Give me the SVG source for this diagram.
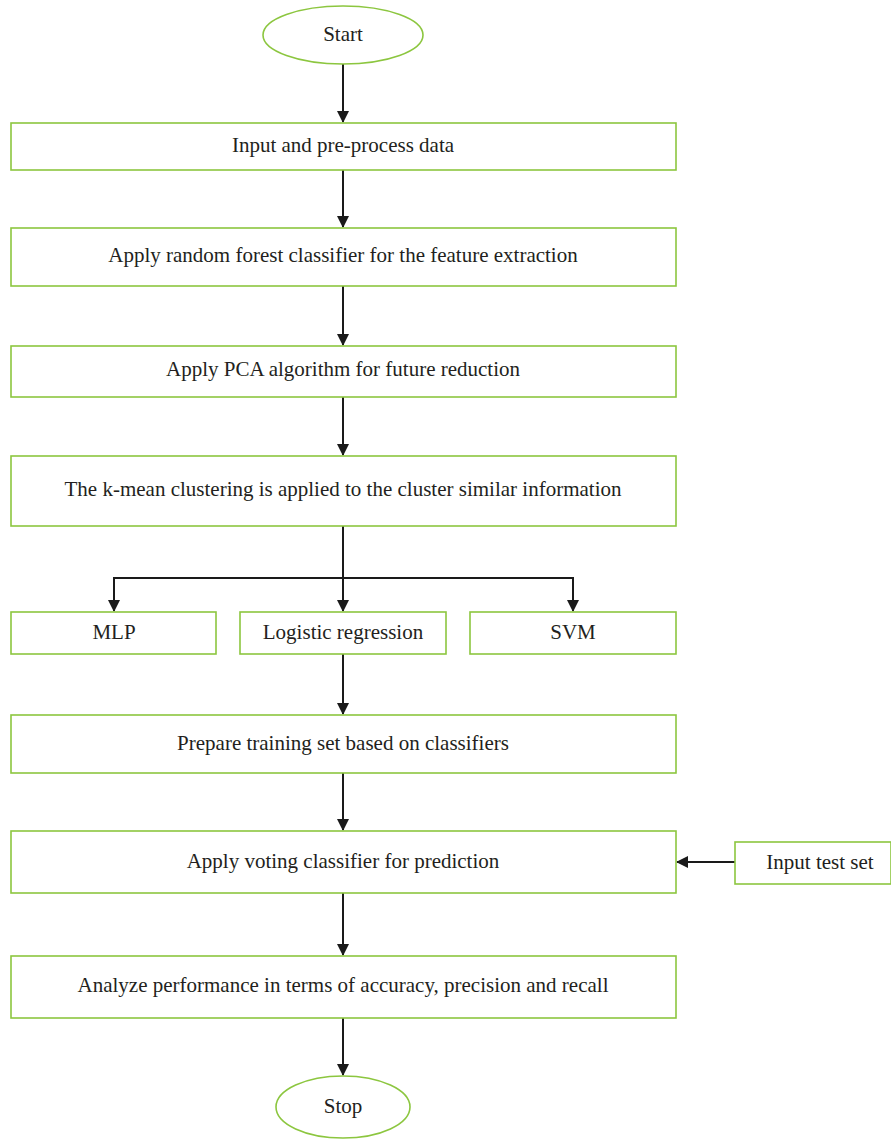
<svg xmlns="http://www.w3.org/2000/svg" width="891" height="1141" viewBox="0 0 891 1141">
<style>
.n{fill:#fff;stroke:#8cc63f;stroke-width:1.6}
.t{font-family:"Liberation Serif",serif;font-size:21px;fill:#231f20;text-anchor:middle;dominant-baseline:central}
.c{stroke:#1a1a1a;stroke-width:2;fill:none}
</style>
<defs>
<marker id="a" markerWidth="12" markerHeight="12" refX="11" refY="6" orient="auto" markerUnits="userSpaceOnUse" viewBox="0 0 12 12">
<path d="M0,0 L12,6 L0,12 z" fill="#1a1a1a"/>
</marker>
</defs>
<g id="connectors">
<line class="c" x1="343" y1="64" x2="343" y2="122" marker-end="url(#a)"/>
<line class="c" x1="343" y1="170" x2="343" y2="227" marker-end="url(#a)"/>
<line class="c" x1="343" y1="286" x2="343" y2="345" marker-end="url(#a)"/>
<line class="c" x1="343" y1="397" x2="343" y2="455" marker-end="url(#a)"/>
<line class="c" x1="343" y1="526" x2="343" y2="611" marker-end="url(#a)"/>
<polyline class="c" points="343,578 114,578 114,611" marker-end="url(#a)"/>
<polyline class="c" points="343,578 573,578 573,611" marker-end="url(#a)"/>
<line class="c" x1="343" y1="654" x2="343" y2="714" marker-end="url(#a)"/>
<line class="c" x1="343" y1="773" x2="343" y2="830" marker-end="url(#a)"/>
<line class="c" x1="735" y1="862" x2="677" y2="862" marker-end="url(#a)"/>
<line class="c" x1="343" y1="893" x2="343" y2="955" marker-end="url(#a)"/>
<line class="c" x1="343" y1="1018" x2="343" y2="1075" marker-end="url(#a)"/>
</g>
<g id="start"><ellipse class="n" cx="343" cy="35" rx="80" ry="29"/><text class="t" x="343" y="34">Start</text></g>
<g id="input"><rect class="n" x="11" y="123" width="665" height="47"/><text class="t" x="343" y="145">Input and pre-process data</text></g>
<g id="rf"><rect class="n" x="11" y="228" width="665" height="58"/><text class="t" x="343" y="255">Apply random forest classifier for the feature extraction</text></g>
<g id="pca"><rect class="n" x="11" y="346" width="665" height="51"/><text class="t" x="343" y="369">Apply PCA algorithm for future reduction</text></g>
<g id="kmean"><rect class="n" x="11" y="456" width="665" height="70"/><text class="t" x="343" y="489">The k-mean clustering is applied to the cluster similar information</text></g>
<g id="mlp"><rect class="n" x="11" y="612" width="205" height="42"/><text class="t" x="114" y="632">MLP</text></g>
<g id="lr"><rect class="n" x="240" y="612" width="206" height="42"/><text class="t" x="343" y="632">Logistic regression</text></g>
<g id="svm"><rect class="n" x="470" y="612" width="206" height="42"/><text class="t" x="573" y="632">SVM</text></g>
<g id="train"><rect class="n" x="11" y="715" width="665" height="58"/><text class="t" x="343" y="743">Prepare training set based on classifiers</text></g>
<g id="vote"><rect class="n" x="11" y="831" width="665" height="62"/><text class="t" x="343" y="861">Apply voting classifier for prediction</text></g>
<g id="test"><rect class="n" x="735" y="842" width="156" height="42"/><text class="t" x="820" y="862">Input test set</text></g>
<g id="analyze"><rect class="n" x="11" y="956" width="665" height="62"/><text class="t" x="343" y="985">Analyze performance in terms of accuracy, precision and recall</text></g>
<g id="stop"><ellipse class="n" cx="343" cy="1107" rx="67" ry="31"/><text class="t" x="343" y="1106">Stop</text></g>
</svg>
